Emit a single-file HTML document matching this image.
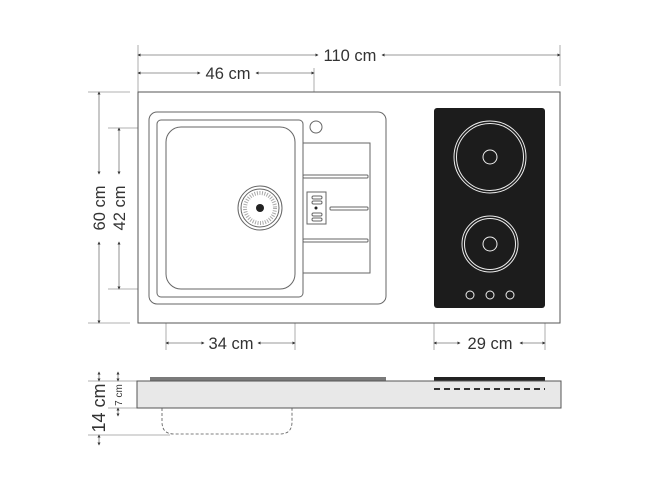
<!DOCTYPE html><html><head><style>body{margin:0;background:#fff}svg{display:block}</style></head><body>
<svg width="650" height="488" viewBox="0 0 650 488" xmlns="http://www.w3.org/2000/svg" font-family="Liberation Sans, sans-serif">
<defs><marker id="a" viewBox="0 0 6 6" refX="5" refY="3" markerWidth="4" markerHeight="4" orient="auto-start-reverse"><path d="M0,0L6,3L0,6z" fill="#333"/></marker></defs>
<g stroke="#999" stroke-width="0.8" fill="none">
<line x1="138" y1="45" x2="138" y2="92"/><line x1="560" y1="45" x2="560" y2="86"/>
<line x1="314" y1="68" x2="314" y2="121"/>
<line x1="88" y1="92" x2="130" y2="92"/><line x1="88" y1="323" x2="130" y2="323"/>
<line x1="108" y1="128" x2="180" y2="128"/><line x1="108" y1="289" x2="180" y2="289"/>
<line x1="166" y1="289" x2="166" y2="350"/><line x1="295" y1="289" x2="295" y2="350"/>
<line x1="434" y1="308" x2="434" y2="350"/><line x1="545" y1="308" x2="545" y2="350"/>
<line x1="88" y1="381" x2="137" y2="381"/><line x1="108" y1="408" x2="137" y2="408"/><line x1="88" y1="435" x2="170" y2="435"/>
</g>
<g stroke="#777" stroke-width="0.8" marker-start="url(#a)" marker-end="url(#a)">
<line x1="138" y1="55" x2="318" y2="55" marker-end=""/><line x1="382" y1="55" x2="560" y2="55" marker-start=""/>
<line x1="138" y1="73" x2="200" y2="73" marker-end=""/><line x1="256" y1="73" x2="314" y2="73" marker-start=""/>
<line x1="99" y1="92" x2="99" y2="174" marker-end=""/><line x1="99" y1="242" x2="99" y2="323" marker-start=""/>
<line x1="119" y1="128" x2="119" y2="174" marker-end=""/><line x1="119" y1="242" x2="119" y2="289" marker-start=""/>
<line x1="166" y1="343" x2="204" y2="343" marker-end=""/><line x1="258" y1="343" x2="295" y2="343" marker-start=""/>
<line x1="434" y1="343" x2="460" y2="343" marker-end=""/><line x1="520" y1="343" x2="545" y2="343" marker-start=""/>
<line x1="99" y1="372" x2="99" y2="381" marker-start=""/><line x1="99" y1="445" x2="99" y2="435" marker-start=""/>
<line x1="118" y1="372" x2="118" y2="381" marker-start=""/><line x1="118" y1="416" x2="118" y2="408" marker-start=""/>
</g>
<g fill="#333" font-size="16.5">
<text x="350" y="61" text-anchor="middle">110 cm</text>
<text x="228" y="79" text-anchor="middle">46 cm</text>
<text x="231" y="349" text-anchor="middle">34 cm</text>
<text x="490" y="349" text-anchor="middle">29 cm</text>
<text transform="translate(105,208) rotate(-90)" text-anchor="middle">60 cm</text>
<text transform="translate(125,208) rotate(-90)" text-anchor="middle">42 cm</text>
<text transform="translate(105,408) rotate(-90)" text-anchor="middle" font-size="18">14 cm</text>
<text transform="translate(122,395) rotate(-90)" text-anchor="middle" font-size="10">7 cm</text>
</g>
<rect x="138" y="92" width="422" height="231" fill="#fff" stroke="#555" stroke-width="1"/>
<g fill="none" stroke="#666" stroke-width="1">
<rect x="149" y="112" width="237" height="192" rx="8"/>
<rect x="157" y="120" width="146" height="177" rx="4"/>
<rect x="166" y="127" width="129" height="162" rx="15"/>
<circle cx="316" cy="127" r="6"/>
<path d="M303,143H370V273H303"/>
<rect x="303" y="175" width="65" height="3" rx="1"/>
<rect x="303" y="239" width="65" height="3" rx="1"/>
<rect x="330" y="207" width="38" height="3" rx="1"/>
<rect x="307" y="192" width="19" height="32"/>
<rect x="312" y="196" width="10" height="3" rx="1.5"/><rect x="312" y="201" width="10" height="3" rx="1.5"/>
<rect x="312" y="213" width="10" height="3" rx="1.5"/><rect x="312" y="218" width="10" height="3" rx="1.5"/>
<circle cx="260" cy="208" r="22"/><circle cx="260" cy="208" r="19"/>
<circle cx="260" cy="208" r="15" stroke-dasharray="1 1.5" stroke-width="4" stroke="#aaa"/>
</g>
<circle cx="316" cy="208" r="1.5" fill="#222"/>
<circle cx="260" cy="208" r="4" fill="#222"/>
<rect x="434" y="108" width="111" height="200" rx="3" fill="#1c1c1c"/>
<g fill="none" stroke="#eee" stroke-width="1">
<circle cx="490" cy="157" r="36"/><circle cx="490" cy="157" r="33.5"/><circle cx="490" cy="157" r="7"/>
<circle cx="490" cy="244" r="28"/><circle cx="490" cy="244" r="25.5"/><circle cx="490" cy="244" r="7"/>
<circle cx="470" cy="295" r="4"/><circle cx="490" cy="295" r="4"/><circle cx="510" cy="295" r="4"/>
</g>
<rect x="150" y="377" width="236" height="4" fill="#7a7a7a"/>
<rect x="434" y="377" width="111" height="4" fill="#222"/>
<rect x="137" y="381" width="424" height="27" fill="#e8e8e8" stroke="#555" stroke-width="1"/>
<line x1="434" y1="389" x2="545" y2="389" stroke="#333" stroke-width="2" stroke-dasharray="6 4"/>
<path d="M162,408V422Q162,434 174,434H280Q292,434 292,422V408" fill="none" stroke="#555" stroke-width="0.8" stroke-dasharray="3 2"/>
</svg></body></html>
